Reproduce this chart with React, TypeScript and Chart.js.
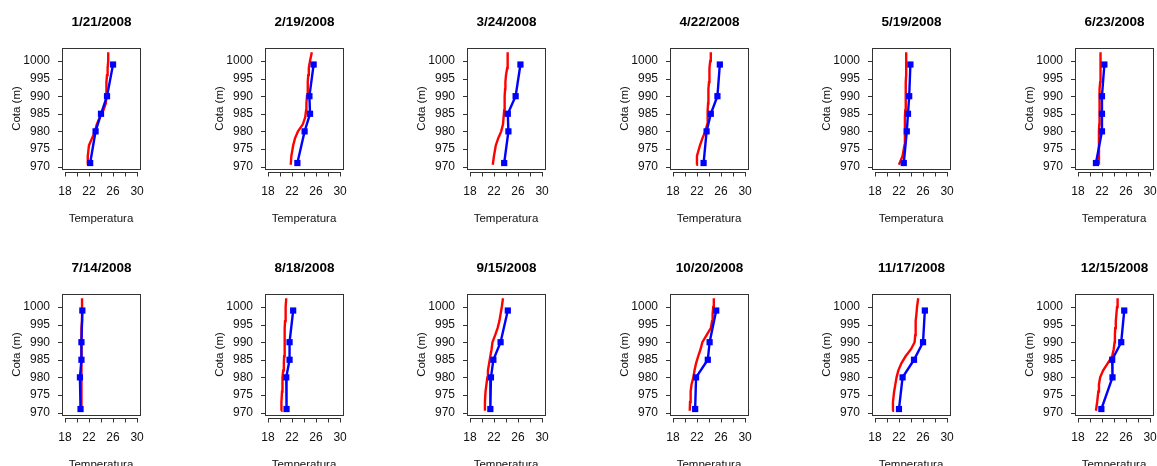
import React, { useEffect, useRef } from 'react';
import { Chart, registerables } from 'chart.js';

Chart.register(...registerables);

// ---- data ----
const DATES = [
  '1/21/2008', '2/19/2008', '3/24/2008', '4/22/2008', '5/19/2008', '6/23/2008',
  '7/14/2008', '8/18/2008', '9/15/2008', '10/20/2008', '11/17/2008', '12/15/2008',
];

// elevations (m) of the observed profile points
const OBS_ELEV = [999, 990, 985, 980, 971];
// elevations (m) of the modelled profile
const MODEL_ELEV = [970.5, 973, 976, 978, 980, 982, 984, 986, 988, 990, 992, 994, 996, 998, 1000, 1002.5];

// observed temperatures (blue)
const OBS_JAN = [26.0, 25.0, 24.0, 23.1, 22.2];
const OBS_FEB = [25.6, 24.9, 25.0, 24.1, 22.9];
const OBS_MAR = [26.4, 25.6, 24.3, 24.4, 23.7];
const OBS_APR = [25.8, 25.4, 24.3, 23.6, 23.1];
const OBS_MAY = [23.9, 23.7, 23.5, 23.3, 22.8];
const OBS_JUN = [22.4, 22.0, 22.0, 22.0, 21.0];
const OBS_JUL = [20.9, 20.75, 20.75, 20.5, 20.6];
const OBS_AUG = [22.2, 21.6, 21.6, 21.05, 21.1];
const OBS_SEP = [24.3, 23.1, 21.9, 21.5, 21.4];
const OBS_OCT = [25.2, 24.1, 23.8, 21.85, 21.7];
const OBS_NOV = [26.3, 26.0, 24.5, 22.6, 22.0];
const OBS_DEC = [25.7, 25.2, 23.7, 23.75, 21.9];

// modelled temperatures (red)
const MOD_JAN = [21.7, 21.8, 22.0, 22.5, 23.0, 23.3, 23.8, 24.4, 24.8, 24.9, 24.9, 24.9, 25.0, 25.1, 25.2, 25.2];
const MOD_FEB = [21.8, 21.9, 22.2, 22.5, 23.0, 23.8, 24.2, 24.35, 24.4, 24.5, 24.6, 24.65, 24.7, 24.8, 25.0, 25.3];
const MOD_MAR = [21.8, 22.0, 22.3, 22.7, 23.2, 23.5, 23.6, 23.7, 23.75, 23.8, 23.85, 23.9, 24.0, 24.2, 24.25, 24.3];
const MOD_APR = [21.9, 22.0, 22.5, 22.9, 23.4, 23.7, 23.75, 23.8, 23.85, 23.9, 23.9, 24.0, 24.05, 24.1, 24.2, 24.3];
const MOD_MAY = [22.0, 22.6, 22.9, 22.95, 23.0, 23.0, 23.0, 23.05, 23.1, 23.1, 23.15, 23.15, 23.2, 23.2, 23.2, 23.2];
const MOD_JUN = [21.5, 21.5, 21.5, 21.5, 21.5, 21.55, 21.55, 21.6, 21.6, 21.6, 21.65, 21.7, 21.7, 21.75, 21.8, 21.8];
const MOD_JUL = [20.8, 20.8, 20.8, 20.8, 20.75, 20.75, 20.7, 20.7, 20.7, 20.7, 20.8, 20.8, 20.85, 20.85, 20.85, 20.85];
const MOD_AUG = [20.2, 20.25, 20.35, 20.4, 20.45, 20.55, 20.65, 20.7, 20.75, 20.8, 20.8, 20.8, 20.85, 20.9, 21.0, 21.05];
const MOD_SEP = [20.5, 20.5, 20.6, 20.75, 20.9, 21.0, 21.2, 21.4, 21.6, 21.75, 22.2, 22.6, 22.9, 23.1, 23.3, 23.5];
const MOD_OCT = [20.8, 20.85, 20.95, 21.1, 21.4, 21.6, 21.85, 22.2, 22.6, 22.9, 23.6, 24.3, 24.5, 24.6, 24.7, 24.8];
const MOD_NOV = [20.9, 21.0, 21.2, 21.4, 21.6, 21.9, 22.4, 23.1, 24.0, 24.6, 24.7, 24.75, 24.8, 24.9, 25.0, 25.2];
const MOD_DEC = [21.0, 21.2, 21.4, 21.5, 21.7, 22.2, 22.95, 23.7, 23.95, 24.1, 24.15, 24.2, 24.3, 24.4, 24.5, 24.6];

const OBS_SERIES = [OBS_JAN, OBS_FEB, OBS_MAR, OBS_APR, OBS_MAY, OBS_JUN, OBS_JUL, OBS_AUG, OBS_SEP, OBS_OCT, OBS_NOV, OBS_DEC];
const MOD_SERIES = [MOD_JAN, MOD_FEB, MOD_MAR, MOD_APR, MOD_MAY, MOD_JUN, MOD_JUL, MOD_AUG, MOD_SEP, MOD_OCT, MOD_NOV, MOD_DEC];

// axes
const X_TICKS = [18, 20, 22, 24, 26, 28, 30];
const X_LABELS = [18, 22, 26, 30];
const Y_TICKS = [970, 975, 980, 985, 990, 995, 1000];
const X_MIN = 17.52;
const X_MAX = 30.48;
const Y_MIN = 969.3;
const Y_MAX = 1003.7;

// ---- layout ----
const PANEL_W = 203;
const PANEL_H = 246;
const PITCH_X = 202.6;
const PITCH_Y = 246;
const AREA_LEFT = 62;
const AREA_RIGHT = 140;
const AREA_TOP = 48;
const AREA_BOTTOM = 169;

const FONT = 'Liberation Sans, Arial, Helvetica, sans-serif';
const TXT = '#111111';

const framePlugin = {
  id: 'rframe',
  afterDraw(chart: any) {
    const { ctx, chartArea: a, scales } = chart;
    const x = scales.x;
    const y = scales.y;
    ctx.save();
    ctx.strokeStyle = '#333333';
    ctx.lineWidth = 1;
    ctx.strokeRect(Math.round(a.left) + 0.5, Math.round(a.top) + 0.5, Math.round(a.right - a.left), Math.round(a.bottom - a.top));
    ctx.beginPath();
    Y_TICKS.forEach((v) => {
      const p = Math.round(y.getPixelForValue(v)) + 0.5;
      ctx.moveTo(Math.round(a.left), p);
      ctx.lineTo(Math.round(a.left) - 4, p);
    });
    const yy = Math.round(a.bottom) + 3.5;
    ctx.moveTo(Math.round(x.getPixelForValue(X_TICKS[0])), yy);
    ctx.lineTo(Math.round(x.getPixelForValue(X_TICKS[X_TICKS.length - 1])) + 1, yy);
    X_TICKS.forEach((v) => {
      const p = Math.round(x.getPixelForValue(v)) + 0.5;
      ctx.moveTo(p, yy);
      ctx.lineTo(p, yy + 4);
    });
    ctx.stroke();
    ctx.restore();
  },
};

function Panel({ idx }: { idx: number }) {
  const ref = useRef<HTMLCanvasElement>(null);
  useEffect(() => {
    if (!ref.current) return;
    const obs = OBS_ELEV.map((e, i) => ({ x: OBS_SERIES[idx][i], y: e }));
    const mod = MODEL_ELEV.map((e, i) => ({ x: MOD_SERIES[idx][i], y: e }));
    const tickFont = { family: FONT, size: 12 };
    const chart = new Chart(ref.current, {
      type: 'scatter',
      data: {
        datasets: [
          {
            data: obs,
            showLine: true,
            borderColor: '#0000ff',
            backgroundColor: '#0000ff',
            borderWidth: 2.4,
            pointStyle: 'rect',
            pointRadius: 4.4,
            pointBorderWidth: 0,
            pointBackgroundColor: '#0000ff',
          },
          {
            data: mod,
            showLine: true,
            borderColor: '#ff0000',
            backgroundColor: '#ff0000',
            borderWidth: 2.4,
            pointRadius: 0,
          },
        ],
      },
      options: {
        responsive: false,
        animation: false,
        events: [],
        layout: { padding: 0 },
        plugins: {
          legend: { display: false },
          tooltip: { enabled: false },
          title: {
            display: true,
            text: DATES[idx],
            color: '#000',
            font: { family: FONT, size: 13.5, weight: 'bold' },
            padding: { top: 14, bottom: AREA_TOP - 14 - 13.5 * 1.2 },
          },
        },
        scales: {
          x: {
            type: 'linear',
            min: X_MIN,
            max: X_MAX,
            afterBuildTicks: (s: any) => {
              s.ticks = X_TICKS.map((v) => ({ value: v }));
            },
            afterFit: (s: any) => {
              s.height = PANEL_H - AREA_BOTTOM;
            },
            grid: { display: false, drawTicks: false },
            border: { display: false },
            ticks: {
              autoSkip: false,
              maxRotation: 0,
              padding: 15,
              color: TXT,
              font: tickFont,
              callback: (v: any) => (X_LABELS.includes(Number(v)) ? String(v) : ''),
            },
            title: {
              display: true,
              text: 'Temperatura',
              color: TXT,
              font: { family: FONT, size: 11.5 },
              padding: { top: 0, bottom: 20 },
            },
          },
          y: {
            type: 'linear',
            position: 'left',
            min: Y_MIN,
            max: Y_MAX,
            afterBuildTicks: (s: any) => {
              s.ticks = Y_TICKS.map((v) => ({ value: v }));
            },
            afterFit: (s: any) => {
              s.width = AREA_LEFT;
            },
            grid: { display: false, drawTicks: false },
            border: { display: false },
            ticks: {
              autoSkip: false,
              padding: 12,
              color: TXT,
              font: tickFont,
              callback: (v: any) => String(v),
            },
            title: {
              display: true,
              text: 'Cota (m)',
              color: TXT,
              font: { family: FONT, size: 11.5 },
              padding: { top: 10, bottom: 0 },
            },
          },
          yRight: {
            type: 'linear',
            position: 'right',
            display: true,
            min: Y_MIN,
            max: Y_MAX,
            afterFit: (s: any) => {
              s.width = PANEL_W - AREA_RIGHT;
            },
            grid: { display: false, drawTicks: false },
            border: { display: false },
            ticks: { display: false },
          },
        },
      },
      plugins: [framePlugin],
    } as any);
    return () => chart.destroy();
  }, [idx]);
  const col = idx % 6;
  const row = Math.floor(idx / 6);
  return (
    <canvas
      ref={ref}
      width={PANEL_W}
      height={PANEL_H}
      style={{
        position: 'absolute',
        left: Math.round(col * PITCH_X),
        top: row * PITCH_Y,
        width: PANEL_W,
        height: PANEL_H,
      }}
    />
  );
}

export default function App() {
  return (
    <div
      style={{
        position: 'fixed',
        left: 0,
        top: 0,
        width: 1157,
        height: 466,
        overflow: 'hidden',
        background: '#ffffff',
      }}
    >
      {DATES.map((_, i) => (
        <Panel key={i} idx={i} />
      ))}
    </div>
  );
}
